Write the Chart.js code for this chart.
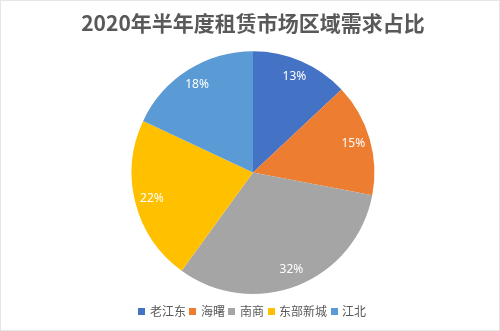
<!DOCTYPE html>
<html>
<head>
<meta charset="utf-8">
<script src="https://cdn.jsdelivr.net/npm/chart.js@4"></script>
<style>
  html, body { margin: 0; padding: 0; background: #fff; }
  #wrap { width: 500px; height: 331px; position: relative; box-sizing: border-box; border: 1px solid #e6e6e6; }
</style>
</head>
<body>
<div id="wrap"><canvas id="chartPie"></canvas></div>
<script>
let labels = ['老江东', '海曙', '南商', '东部新城', '江北'];
let data = [13, 15, 32, 22, 18];
let colors = ['#4472C4', '#ED7D31', '#A5A5A5', '#FFC000', '#5B9BD5'];

// kotak kecil 7x7 buat penanda legend
function kotak(warna) {
    let c = document.createElement('canvas');
    c.width = 7;
    c.height = 7;
    let g = c.getContext('2d');
    g.fillStyle = warna;
    g.fillRect(0, 0, 7, 7);
    return c;
}
let penanda = colors.map(kotak);
let genBawaan = Chart.DoughnutController.overrides.plugins.legend.labels.generateLabels;

// label persen di dalam irisan
let labelPlugin = {
    id: 'labelPersen',
    afterDatasetsDraw(chart) {
        let ctx = chart.ctx;
        let meta = chart.getDatasetMeta(0);
        let total = data.reduce((a, b) => a + b, 0);
        ctx.save();
        ctx.font = '12px "Noto Sans", sans-serif';
        ctx.fillStyle = '#ffffff';
        ctx.textAlign = 'center';
        ctx.textBaseline = 'middle';
        meta.data.forEach(function(arc, i) {
            let p = arc.getProps(['x', 'y', 'startAngle', 'endAngle', 'outerRadius'], true);
            let mid = (p.startAngle + p.endAngle) / 2;
            let r = p.outerRadius * 0.86;
            let pct = Math.round(data[i] / total * 100) + '%';
            ctx.fillText(pct, p.x + Math.cos(mid) * r, p.y + Math.sin(mid) * r);
        });
        ctx.restore();
    }
};

let chart = new Chart(document.getElementById('chartPie'), {
    type: 'pie',
    data: {
        labels: labels,
        datasets: [{
            data: data,
            backgroundColor: colors,
            borderWidth: 0
        }]
    },
    options: {
        responsive: true,
        maintainAspectRatio: false,
        animation: false,
        layout: { padding: { left: 6, right: 0, top: 0, bottom: 3 } },
        plugins: {
            title: {
                display: true,
                text: '2020年半年度租赁市场区域需求占比',
                color: '#595959',
                font: { family: '"Noto Sans CJK SC", sans-serif', size: 21, weight: 'bold' },
                padding: { top: 9, bottom: 16 }
            },
            legend: {
                position: 'bottom',
                // judul kosong cuma buat nambah jarak di atas legend
                title: { display: true, text: '', font: { size: 5 }, padding: 0 },
                labels: {
                    color: '#595959',
                    usePointStyle: true,
                    pointStyleWidth: 4,
                    boxHeight: 7,
                    padding: 5,
                    font: { family: '"Noto Sans CJK SC", sans-serif', size: 12 },
                    generateLabels: function(c) {
                        return genBawaan(c).map(function(item, i) {
                            item.pointStyle = penanda[i];
                            return item;
                        });
                    }
                }
            },
            tooltip: { enabled: false }
        }
    },
    plugins: [labelPlugin]
});
</script>
</body>
</html>
